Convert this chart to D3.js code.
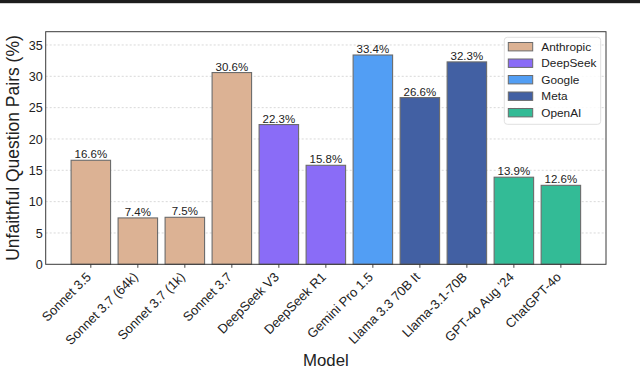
<!DOCTYPE html>
<html>
<head>
<meta charset="utf-8">
<script src="https://cdn.jsdelivr.net/npm/d3@7"></script>
<style>
  body { margin: 0; background: #fff; }
  svg { display: block; font-family: "Liberation Sans", Arial, sans-serif; }
</style>
</head>
<body>
<script>
// chart values
var models = ["Sonnet 3.5", "Sonnet 3.7 (64k)", "Sonnet 3.7 (1k)", "Sonnet 3.7", "DeepSeek V3", "DeepSeek R1",
              "Gemini Pro 1.5", "Llama 3.3 70B It", "Llama-3.1-70B", "GPT-4o Aug '24", "ChatGPT-4o"]
var values = [16.6, 7.4, 7.5, 30.6, 22.3, 15.8, 33.4, 26.6, 32.3, 13.9, 12.6]
var makers = ["Anthropic", "Anthropic", "Anthropic", "Anthropic", "DeepSeek", "DeepSeek",
              "Google", "Meta", "Meta", "OpenAI", "OpenAI"]
var companies = ["Anthropic", "DeepSeek", "Google", "Meta", "OpenAI"]
var companyColors = ["#dcb294", "#8a6cf7", "#529ef4", "#4260a3", "#33bb96"]
var yTicks = [0, 5, 10, 15, 20, 25, 30, 35]

var width = 640, height = 369
var margin = {top: 31.7, left: 45.7, right: 34, bottom: 104.7}

var svg = d3.select("body").append("svg")
    .attr("width", width)
    .attr("height", height)

// dark rule along the top of the page
svg.append("rect")
    .attr("x", 0).attr("y", 0)
    .attr("width", width).attr("height", 3.2)
    .attr("fill", "#1e1e1e")

var x = d3.scaleLinear()
    .domain([-0.96, models.length - 1 + 0.96])
    .range([margin.left, width - margin.right])

var y = d3.scaleLinear()
    .domain([0, 37.12])
    .range([height - margin.bottom, margin.top])

var color = d3.scaleOrdinal().domain(companies).range(companyColors)
var barW = x(0.84) - x(0)

// grid
svg.append("g")
    .selectAll("line")
    .data(yTicks.slice(1))
    .enter().append("line")
    .attr("x1", margin.left).attr("x2", width - margin.right)
    .attr("y1", function(d) { return y(d) })
    .attr("y2", function(d) { return y(d) })
    .attr("stroke", "#cfcfcf")
    .attr("stroke-width", 0.8)
    .attr("stroke-dasharray", "2,2")

// bars
svg.append("g")
    .selectAll("rect")
    .data(values)
    .enter().append("rect")
    .attr("x", function(d, i) { return x(i) - barW / 2 })
    .attr("y", function(d) { return y(d) })
    .attr("width", barW)
    .attr("height", function(d) { return y(0) - y(d) })
    .attr("fill", function(d, i) { return color(makers[i]) })
    .attr("stroke", "#6b6b6b")
    .attr("stroke-width", 1.1)

// value labels
svg.append("g")
    .selectAll("text")
    .data(values)
    .enter().append("text")
    .attr("x", function(d, i) { return x(i) })
    .attr("y", function(d) { return y(d) - 2 })
    .attr("text-anchor", "middle")
    .attr("font-size", 11.5)
    .attr("fill", "#222")
    .text(function(d) { return d.toFixed(1) + "%" })

// frame
svg.append("rect")
    .attr("x", margin.left).attr("y", margin.top)
    .attr("width", width - margin.right - margin.left)
    .attr("height", height - margin.bottom - margin.top)
    .attr("fill", "none")
    .attr("stroke", "#3a3a3a")
    .attr("stroke-width", 1)

// y axis
var yAxis = svg.append("g")
    .attr("transform", "translate(" + margin.left + ",0)")
    .call(d3.axisLeft(y).tickValues(yTicks).tickSize(0).tickPadding(3))
yAxis.select(".domain").remove()
yAxis.selectAll("text")
    .attr("font-size", 12.6)
    .attr("font-family", "Liberation Sans, Arial, sans-serif")
    .attr("fill", "#222")

// x axis ticks
var bottom = height - margin.bottom
svg.append("g")
    .selectAll("line")
    .data(models)
    .enter().append("line")
    .attr("x1", function(d, i) { return x(i) })
    .attr("x2", function(d, i) { return x(i) })
    .attr("y1", bottom).attr("y2", bottom + 3.5)
    .attr("stroke", "#333")
    .attr("stroke-width", 0.9)

svg.append("g")
    .selectAll("text")
    .data(models)
    .enter().append("text")
    .attr("transform", function(d, i) { return "translate(" + (x(i) + 1) + "," + (bottom + 13.5) + ") rotate(-45)" })
    .attr("text-anchor", "end")
    .attr("font-size", 13)
    .attr("fill", "#222")
    .text(function(d) { return d })

// axis titles
svg.append("text")
    .attr("transform", "translate(19," + ((margin.top + bottom) / 2) + ") rotate(-90)")
    .attr("text-anchor", "middle")
    .attr("font-size", 17.5)
    .attr("fill", "#222")
    .text("Unfaithful Question Pairs (%)")

svg.append("text")
    .attr("x", (margin.left + width - margin.right) / 2)
    .attr("y", 366)
    .attr("text-anchor", "middle")
    .attr("font-size", 16.8)
    .attr("fill", "#222")
    .text("Model")

// legend
var legend = svg.append("g")
legend.append("rect")
    .attr("x", 504.3).attr("y", 37.3)
    .attr("width", 96.4).attr("height", 87)
    .attr("rx", 3)
    .attr("fill", "#fff")
    .attr("fill-opacity", 0.85)
    .attr("stroke", "#dcdcdc")
    .attr("stroke-width", 0.9)

var item = legend.selectAll("g.item")
    .data(companies)
    .enter().append("g")
    .attr("class", "item")
    .attr("transform", function(d, i) { return "translate(508.3," + (46.7 + i * 16.5) + ")" })

item.append("rect")
    .attr("x", 0).attr("y", -4.2)
    .attr("width", 24.4).attr("height", 8.4)
    .attr("fill", function(d) { return color(d) })
    .attr("stroke", "#6b6b6b")
    .attr("stroke-width", 1)

item.append("text")
    .attr("x", 33)
    .attr("y", 4.2)
    .attr("font-size", 11.8)
    .attr("fill", "#222")
    .text(function(d) { return d })
</script>
</body>
</html>
